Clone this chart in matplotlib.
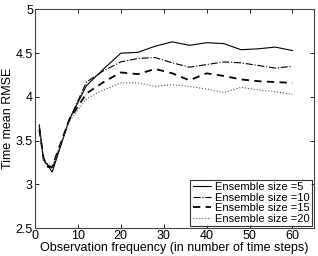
import matplotlib
matplotlib.use("Agg")
import matplotlib.pyplot as plt

plt.rcParams['font.family'] = ['Liberation Sans', 'DejaVu Sans']

obs_freq = [1, 2, 3, 4, 8, 12, 16, 20, 24, 28, 32, 36, 40, 44, 48, 52, 56, 60]
rmse_5 = [3.68, 3.28, 3.22, 3.14, 3.74, 4.13, 4.32, 4.50, 4.51, 4.58, 4.63, 4.59, 4.62, 4.61, 4.54, 4.55, 4.57, 4.53]
rmse_10 = [3.66, 3.27, 3.22, 3.18, 3.74, 4.17, 4.30, 4.40, 4.44, 4.45, 4.39, 4.34, 4.37, 4.40, 4.39, 4.36, 4.33, 4.35]
rmse_15 = [3.63, 3.30, 3.20, 3.20, 3.74, 4.04, 4.17, 4.28, 4.26, 4.32, 4.27, 4.19, 4.27, 4.24, 4.20, 4.18, 4.17, 4.16]
rmse_20 = [3.66, 3.28, 3.23, 3.20, 3.72, 3.98, 4.08, 4.16, 4.16, 4.12, 4.14, 4.12, 4.09, 4.05, 4.11, 4.08, 4.06, 4.03]
labels = ['Ensemble size =5', 'Ensemble size =10', 'Ensemble size =15', 'Ensemble size =20']

x_ticks = [0, 10, 20, 30, 40, 50, 60]
y_ticks = [2.5, 3, 3.5, 4, 4.5, 5]
y_ticklabels = ['2.5', '3', '3.5', '4', '4.5', '5']

fig = plt.figure(figsize=(3.18, 2.56), dpi=100)
ax = fig.add_axes([0.110, 0.109, 0.877, 0.854])

ax.plot(obs_freq, rmse_5, color='black', lw=0.8, ls='-', label=labels[0])
ax.plot(obs_freq, rmse_10, color='black', lw=0.8, ls='-.', label=labels[1])
ax.plot(obs_freq, rmse_15, color='black', lw=1.3, ls=(0, (4, 3)), label=labels[2])
ax.plot(obs_freq, rmse_20, color='#555555', lw=0.8, ls=':', label=labels[3])

ax.set_xlim(0, 65)
ax.set_ylim(2.5, 5)
ax.set_xticks(x_ticks)
ax.set_yticks(y_ticks)
ax.set_yticklabels(y_ticklabels)
ax.tick_params(direction='in', top=True, right=True, labelsize=9, length=3, width=0.6, pad=1.5)
for s in ax.spines.values():
    s.set_color('#444444')
    s.set_linewidth(0.8)

ax.set_xlabel('Observation frequency (in number of time steps)', fontsize=9, labelpad=0)
ax.set_ylabel('Time mean RMSE', fontsize=9, labelpad=1)

leg = ax.legend(loc='lower right', fontsize=8, frameon=True, fancybox=False,
                edgecolor='black', borderpad=0.2, labelspacing=0.05,
                handlelength=1.7, handletextpad=0.3, borderaxespad=0.2)
leg.get_frame().set_linewidth(0.8)

fig.savefig('out.png', dpi=100)
